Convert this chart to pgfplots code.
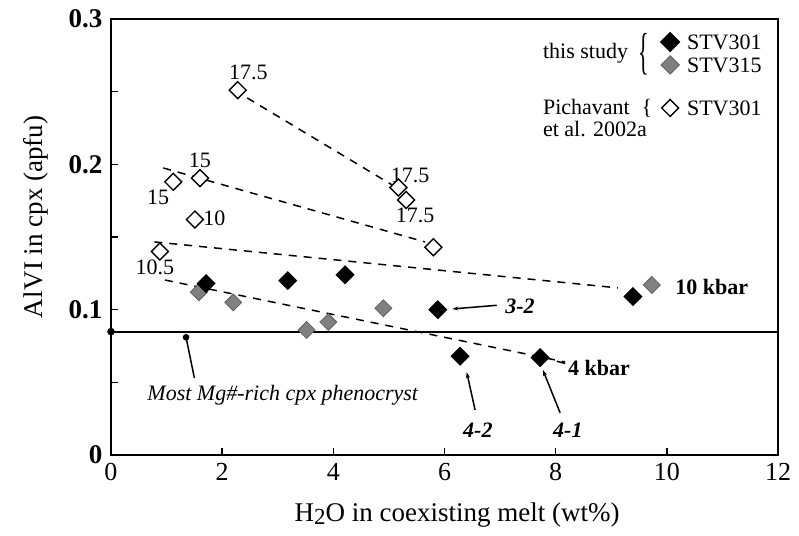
\documentclass[border=0pt]{standalone}
\usepackage{fontspec}
\setmainfont{Liberation Serif}
\usepackage{pgfplots}
\pgfplotsset{compat=1.18}
\usetikzlibrary{arrows.meta}
\definecolor{grayd}{RGB}{128,128,128}
\definecolor{grayedge}{RGB}{95,95,95}
\begin{document}
\begin{tikzpicture}
\begin{axis}[
  scale only axis, width=667pt, height=436pt,
  xmin=0, xmax=12, ymin=0, ymax=0.3,
  xtick={0,2,4,6,8,10,12},
  ytick={0,0.1,0.2,0.3}, yticklabels={0,0.1,0.2,0.3},
  minor ytick={0.05,0.15,0.25},
  tick align=inside, tick pos=left,
  major tick length=7pt, minor tick length=7pt,
  axis line style={line width=2.5pt},
  tick style={line width=1.5pt, black},
  xticklabel style={font=\fontsize{26}{26}\selectfont, yshift=-5pt},
  yticklabel style={font=\fontsize{27}{27}\selectfont\bfseries, xshift=-5pt},
  /pgf/number format/assume math mode=true,
  xlabel={H\raisebox{-0.12em}{\fontsize{23}{23}\selectfont 2}O in coexisting melt (wt\%)},
  ylabel={Al{\kern0.04em}VI in cpx (apfu)},
  xlabel style={font=\fontsize{27}{27}\selectfont, at={(axis description cs:0.519,-0.138)}, anchor=center},
  ylabel style={font=\fontsize{27}{27}\selectfont, at={(axis description cs:-0.112,0.546)}, anchor=center, rotate=0},
  clip=false,
  every axis plot/.append style={line width=1.5pt},
]
\coordinate (sw) at (rel axis cs:0,0);
\coordinate (ne) at (rel axis cs:1,1);

% horizontal reference line
\addplot[black, line width=2pt] coordinates {(0,0.0849) (12,0.0849)};
\addplot[only marks, mark=*, mark size=3pt, black] coordinates {(0,0.0849)};

% dashed isobars / trends
\addplot[black, dash pattern=on 8pt off 7pt] coordinates {(2.45,0.2457) (5.05,0.186)};
\addplot[black, dash pattern=on 8pt off 7pt] coordinates {(0.94,0.1975) (5.65,0.1466)};
\addplot[black, dash pattern=on 8pt off 7pt] coordinates {(0.78,0.1466) (9.12,0.115)};
\addplot[black, dash pattern=on 8pt off 7pt] coordinates {(0.97,0.1204) (8.17,0.064)};

% Pichavant et al. 2002a STV301 (open)
\addplot[only marks, mark=square*, mark size=6pt, mark options={rotate=45, fill=white, draw=black, line width=1.4pt}] coordinates {
(2.28,0.251) (5.17,0.184) (5.31,0.1755) (5.80,0.143) (1.12,0.188) (1.60,0.1905) (1.51,0.162) (0.88,0.140)};

% this study STV315 (gray)
\addplot[only marks, mark=square*, mark size=6pt, mark options={rotate=45, fill=grayd, draw=grayedge, line width=0.8pt}] coordinates {
(1.58,0.112) (2.20,0.105) (3.52,0.086) (3.91,0.0915) (4.90,0.101) (9.73,0.117)};

% this study STV301 (black)
\addplot[only marks, mark=square*, mark size=6pt, mark options={rotate=45, fill=black, draw=black}] coordinates {
(1.71,0.118) (3.18,0.120) (4.21,0.124) (5.88,0.100) (6.28,0.068) (7.72,0.067) (9.39,0.109)};

% legend markers
\addplot[only marks, mark=square*, mark size=6.5pt, mark options={rotate=45, fill=black, draw=black}] coordinates {(10.06,0.2842)};
\addplot[only marks, mark=square*, mark size=6.5pt, mark options={rotate=45, fill=grayd, draw=grayedge, line width=0.8pt}] coordinates {(10.06,0.2684)};
\addplot[only marks, mark=square*, mark size=6pt, mark options={rotate=45, fill=white, draw=black, line width=1.4pt}] coordinates {(10.06,0.2388)};

% legend texts
\begin{scope}[every node/.style={font=\fontsize{22}{22}\selectfont, inner sep=0pt}]
\node[anchor=west] at (axis cs:10.36,0.2842) {STV301};
\node[anchor=west] at (axis cs:10.36,0.2684) {STV315};
\node[anchor=west] at (axis cs:10.36,0.2388) {STV301};
\node[anchor=west] at (axis cs:7.77,0.2763) {this study};
\node[yscale=2.3] at (axis cs:9.59,0.2757) {\{};
\node[anchor=west] at (axis cs:7.77,0.2398) {Pichavant};
\node at (axis cs:9.64,0.2388) {\{};
\node[anchor=west] at (axis cs:7.77,0.2240) {et al. 2002a};

% data labels
\node at (axis cs:2.47,0.2636) {17.5};
\node at (axis cs:5.38,0.1927) {17.5};
\node at (axis cs:5.47,0.165) {17.5};
\node at (axis cs:1.60,0.203) {15};
\node at (axis cs:0.85,0.1776) {15};
\node[anchor=west] at (axis cs:1.66,0.163) {10};
\node at (axis cs:0.79,0.129) {10.5};
\node[anchor=west, font=\fontsize{22}{22}\selectfont\bfseries] at (axis cs:10.15,0.1156) {10 kbar};
\node[anchor=west, font=\fontsize{22}{22}\selectfont\bfseries] at (axis cs:8.22,0.060) {4 kbar};
\node[anchor=west, font=\fontsize{22}{22}\selectfont\bfseries\itshape] at (axis cs:7.09,0.102) {3-2};
\node[font=\fontsize{22}{22}\selectfont\bfseries\itshape] at (axis cs:6.60,0.017) {4-2};
\node[font=\fontsize{22}{22}\selectfont\bfseries\itshape] at (axis cs:8.22,0.017) {4-1};
\node[font=\fontsize{22}{22}\selectfont\itshape] at (axis cs:3.09,0.041) {Most Mg\#-rich cpx phenocryst};
\end{scope}

% pointers
\addplot[black, line width=1.5pt, -{Stealth[length=6pt,width=4pt]}] coordinates {(6.94,0.103) (6.14,0.1005)};
\addplot[black, line width=1.5pt, -{Stealth[length=6pt,width=4pt]}] coordinates {(6.55,0.031) (6.40,0.057)};
\addplot[black, line width=1.5pt, -{Stealth[length=6pt,width=4pt]}] coordinates {(8.08,0.029) (7.77,0.0585)};
\addplot[black, line width=1.5pt] coordinates {(1.50,0.053) (1.35,0.081)};
\addplot[only marks, mark=*, mark size=2.5pt, black] coordinates {(1.35,0.081)};
\addplot[black, line width=1.5pt] coordinates {(8.02,0.0645) (8.17,0.063)};
\end{axis}
\pgfresetboundingbox
\path[use as bounding box] ([xshift=-111pt,yshift=-80pt]sw) rectangle ([xshift=21pt,yshift=19pt]ne);
\end{tikzpicture}
\end{document}
